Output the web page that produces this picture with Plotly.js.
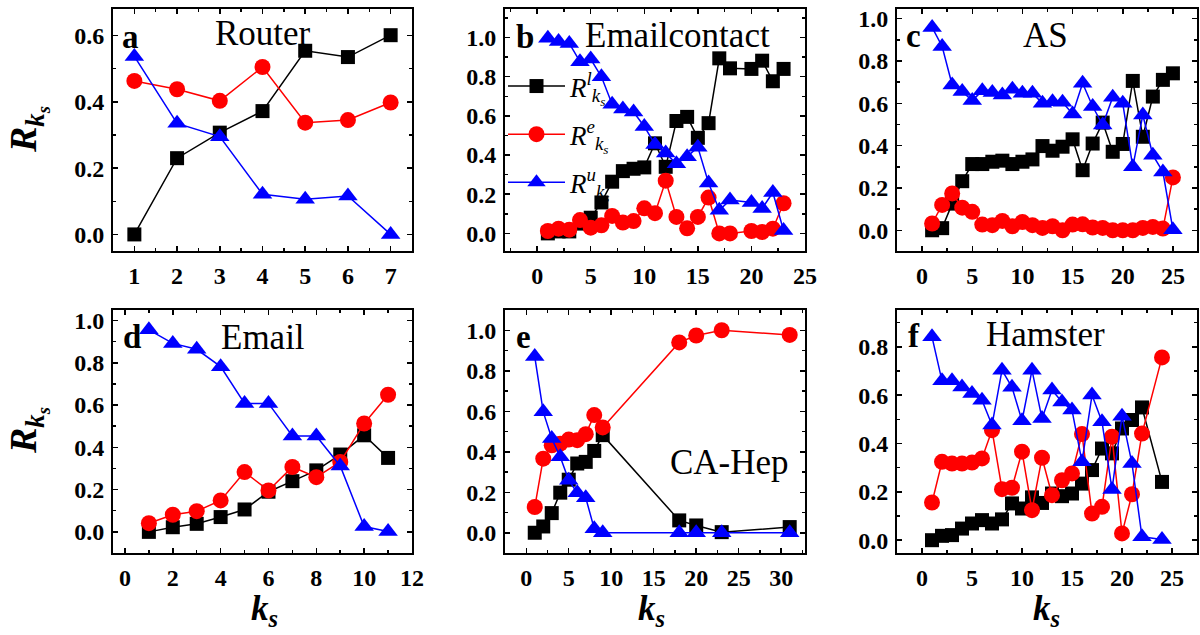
<!DOCTYPE html>
<html><head><meta charset="utf-8">
<script src="https://cdn.plot.ly/plotly-3.0.1.min.js"></script>
<style>html,body{margin:0;padding:0;background:#fff}#chart{width:1200px;height:635px}</style>
</head><body><div id="chart"></div>
<script>
// ---- data ----
const routerK = [1,2,3,4,5,6,7];
const routerL = [0.0,0.23,0.307,0.372,0.554,0.535,0.601];
const routerE = [0.463,0.438,0.403,0.505,0.337,0.345,0.398];
const routerU = [0.537,0.335,0.295,0.121,0.106,0.116,0.0];

const emailcK = [1,2,3,4,5,6,7,8,9,10,11,12,13,14,15,16,17,18,20,21,22,23];
const emailcL = [0.0,0.01,0.01,0.05,0.08,0.158,0.264,0.318,0.33,0.337,0.46,0.34,0.574,0.595,0.488,0.563,0.894,0.843,0.84,0.882,0.777,0.84];
const emailcE = [0.012,0.024,0.019,0.068,0.029,0.041,0.089,0.055,0.063,0.128,0.103,0.269,0.084,0.026,0.084,0.183,0.0,0.0,0.012,0.007,0.024,0.154];
const emailcU = [0.997,0.98,0.97,0.877,0.89,0.80,0.66,0.635,0.62,0.546,0.454,0.41,0.355,0.392,0.44,0.257,0.118,0.17,0.158,0.127,0.209,0.015];

const asK = [1,2,3,4,5,6,7,8,9,10,11,12,13,14,15,16,17,18,19,20,21,22,23,24,25];
const asL = [0.0,0.01,0.126,0.232,0.313,0.313,0.324,0.329,0.313,0.324,0.335,0.398,0.376,0.395,0.43,0.284,0.41,0.509,0.371,0.408,0.706,0.442,0.632,0.711,0.742];
const asE = [0.032,0.12,0.174,0.107,0.087,0.027,0.024,0.044,0.019,0.039,0.024,0.011,0.019,0.0,0.027,0.028,0.013,0.011,0.0,0.0,0.0,0.011,0.016,0.008,0.25];
const asU = [0.959,0.869,0.687,0.656,0.613,0.66,0.651,0.64,0.667,0.648,0.648,0.6,0.608,0.605,0.55,0.695,0.585,0.498,0.629,0.6,0.30,0.545,0.355,0.276,0.003];

const emailK = [1,2,3,4,5,6,7,8,9,10,11];
const emailL = [0.0,0.022,0.038,0.07,0.106,0.19,0.24,0.291,0.366,0.457,0.35];
const emailE = [0.041,0.081,0.098,0.149,0.283,0.196,0.307,0.259,0.331,0.513,0.649];
const emailU = [0.956,0.892,0.864,0.782,0.608,0.608,0.454,0.454,0.312,0.025,0.002];

const caK = [1,2,3,4,5,6,7,8,9,18,20,23,31];
const caL = [0.0,0.031,0.097,0.198,0.262,0.342,0.35,0.404,0.482,0.061,0.036,0.003,0.028];
const caE = [0.127,0.366,0.432,0.44,0.46,0.457,0.487,0.581,0.52,0.94,0.974,1.0,0.977];
const caU = [0.87,0.597,0.465,0.375,0.259,0.198,0.173,0.02,0.0,0.0,0.0,0.0,0.0];

const hamK = [1,2,3,4,5,6,7,8,9,10,11,12,13,14,15,16,17,18,19,20,21,22,24];
const hamL = [0.0,0.018,0.021,0.048,0.069,0.083,0.069,0.086,0.152,0.131,0.177,0.154,0.193,0.182,0.193,0.234,0.29,0.379,0.359,0.462,0.497,0.549,0.241];
const hamE = [0.156,0.324,0.317,0.317,0.321,0.338,0.455,0.211,0.217,0.366,0.124,0.341,0.186,0.248,0.276,0.439,0.11,0.138,0.428,0.028,0.19,0.441,0.756];
const hamU = [0.841,0.659,0.659,0.634,0.607,0.579,0.476,0.703,0.632,0.494,0.703,0.503,0.621,0.572,0.538,0.324,0.6,0.49,0.21,0.513,0.317,0.014,0.003];

const panelLetters = ['a','b','c','d','e','f'];
const panelNames = ['Router','Emailcontact','AS','Email','CA-Hep','Hamster'];
const seriesNames = ['R<sup>l</sup><sub>k<sub>s</sub></sub>','R<sup>e</sup><sub>k<sub>s</sub></sub>','R<sup>u</sup><sub>k<sub>s</sub></sub>'];

// ---- styling / layout ----
const W = 1200, H = 635;
const FONT = 'Liberation Serif, Times New Roman, serif';
const colors = ['#000000','#ff0000','#0000ff'];
const symbols = ['square','circle','triangle-up'];
const sizes = [14,16,17];

const panels = [
  {k:routerK, s:[routerL,routerE,routerU], xr:[0.5,7.5], yr:[-0.05,0.68], xd:1, xm:0.5, yd:0.2, ym:0.1},
  {k:emailcK, s:[emailcL,emailcE,emailcU], xr:[-3,25], yr:[-0.09,1.146], xd:5, xm:2.5, yd:0.2, ym:0.1},
  {k:asK, s:[asL,asE,asU], xr:[-2.5,27.4], yr:[-0.098,1.046], xd:5, xm:2.5, yd:0.2, ym:0.1},
  {k:emailK, s:[emailL,emailE,emailU], xr:[-0.5,12], yr:[-0.10,1.05], xd:2, xm:1, yd:0.2, ym:0.1},
  {k:caK, s:[caL,caE,caU], xr:[-2.5,32.8], yr:[-0.10,1.10], xd:5, xm:2.5, yd:0.2, ym:0.1},
  {k:hamK, s:[hamL,hamE,hamU], xr:[-2.5,27.5], yr:[-0.053,0.952], xd:5, xm:2.5, yd:0.2, ym:0.1}
];
const colPx = [[113,412],[505,805],[897,1197]];
const rowPx = [[9,251],[310,553]];

const traces = [];
const layout = {
  width: W, height: H,
  margin: {l:0,r:0,t:0,b:0},
  paper_bgcolor: '#fff', plot_bgcolor: '#fff',
  font: {family: FONT, color: '#000'},
  showlegend: true,
  legend: {
    x: 503/W, y: 1 - 62/H, xanchor: 'left', yanchor: 'top',
    bgcolor: 'rgba(0,0,0,0)', borderwidth: 0,
    font: {family: FONT, size: 27, style: 'italic', color: '#000'},
    itemwidth: 57, tracegroupgap: 10
  },
  annotations: []
};

panels.forEach((p, i) => {
  const n = i + 1;
  const xa = 'x' + (n === 1 ? '' : n), ya = 'y' + (n === 1 ? '' : n);
  const xk = 'xaxis' + (n === 1 ? '' : n), yk = 'yaxis' + (n === 1 ? '' : n);
  const c = colPx[i % 3], r = rowPx[Math.floor(i / 3)];
  const tickfont = {family: FONT, size: 24, weight: 'bold', color: '#000'};
  layout[xk] = {
    domain: [c[0]/W, c[1]/W], anchor: ya, range: p.xr,
    showgrid: false, zeroline: false, showline: true, linewidth: 2, linecolor: '#000', mirror: 'allticks',
    ticks: 'inside', ticklen: 5, tickwidth: 1.5, tickcolor: '#000', dtick: p.xd, tick0: 0,
    minor: {ticks: 'inside', ticklen: 3, tickwidth: 1.5, tickcolor: '#000', dtick: p.xm, tick0: 0, showgrid: false},
    tickfont: tickfont, ticklabelstandoff: 2, fixedrange: true
  };
  layout[yk] = {
    domain: [1 - r[1]/H, 1 - r[0]/H], anchor: xa, range: p.yr,
    showgrid: false, zeroline: false, showline: true, linewidth: 2, linecolor: '#000', mirror: 'allticks',
    ticks: 'inside', ticklen: 5, tickwidth: 1.5, tickcolor: '#000', dtick: p.yd, tick0: 0, tickformat: '.1f',
    minor: {ticks: 'inside', ticklen: 3, tickwidth: 1.5, tickcolor: '#000', dtick: p.ym, tick0: 0, showgrid: false},
    tickfont: tickfont, ticklabelstandoff: 2, fixedrange: true
  };
  for (let s = 0; s < 3; s++) {
    traces.push({
      type: 'scatter', mode: 'lines+markers', x: p.k, y: p.s[s], xaxis: xa, yaxis: ya,
      name: seriesNames[s], showlegend: i === 1, legendrank: s, legendgroup: 'g' + s,
      line: {color: colors[s], width: 1.5},
      marker: {symbol: symbols[s], size: sizes[s], color: colors[s], line: {width: 0}},
      cliponaxis: true
    });
  }
});

function px(x, y) { return {x: x / W, y: 1 - y / H}; }
function ann(x, y, text, size, extra) {
  const p = px(x, y);
  return Object.assign({xref: 'paper', yref: 'paper', x: p.x, y: p.y, text: text, showarrow: false,
    xanchor: 'center', yanchor: 'middle', font: {family: FONT, size: size, color: '#000'}}, extra || {});
}
const letterPos = [[130,37],[525,37],[913,36],[132,337],[523,337],[914,336]];
const namePos = [[263,34],[677,35],[1045,35],[263,337],[730,463],[1045,335]];
panelLetters.forEach((l, i) => {
  layout.annotations.push(ann(letterPos[i][0], letterPos[i][1], l, 33, {font: {family: FONT, size: 33, weight: 'bold', color: '#000'}}));
  layout.annotations.push(ann(namePos[i][0], namePos[i][1], panelNames[i], 35));
});
// axis titles
const yTitle = '<b>R</b><sub>k<sub>s</sub></sub>';
const xTitle = '<b>k</b><sub>s</sub>';
[130, 431].forEach(yc => {
  layout.annotations.push(ann(28, yc, yTitle, 38, {textangle: -90, font: {family: FONT, size: 38, style: 'italic', weight: 'bold', color: '#000'}}));
});
[264, 651, 1046].forEach(xc => {
  layout.annotations.push(ann(xc, 610, xTitle, 35, {font: {family: FONT, size: 35, style: 'italic', weight: 'bold', color: '#000'}}));
});

Plotly.newPlot('chart', traces, layout, {staticPlot: true, displayModeBar: false});
</script>
</body></html>
